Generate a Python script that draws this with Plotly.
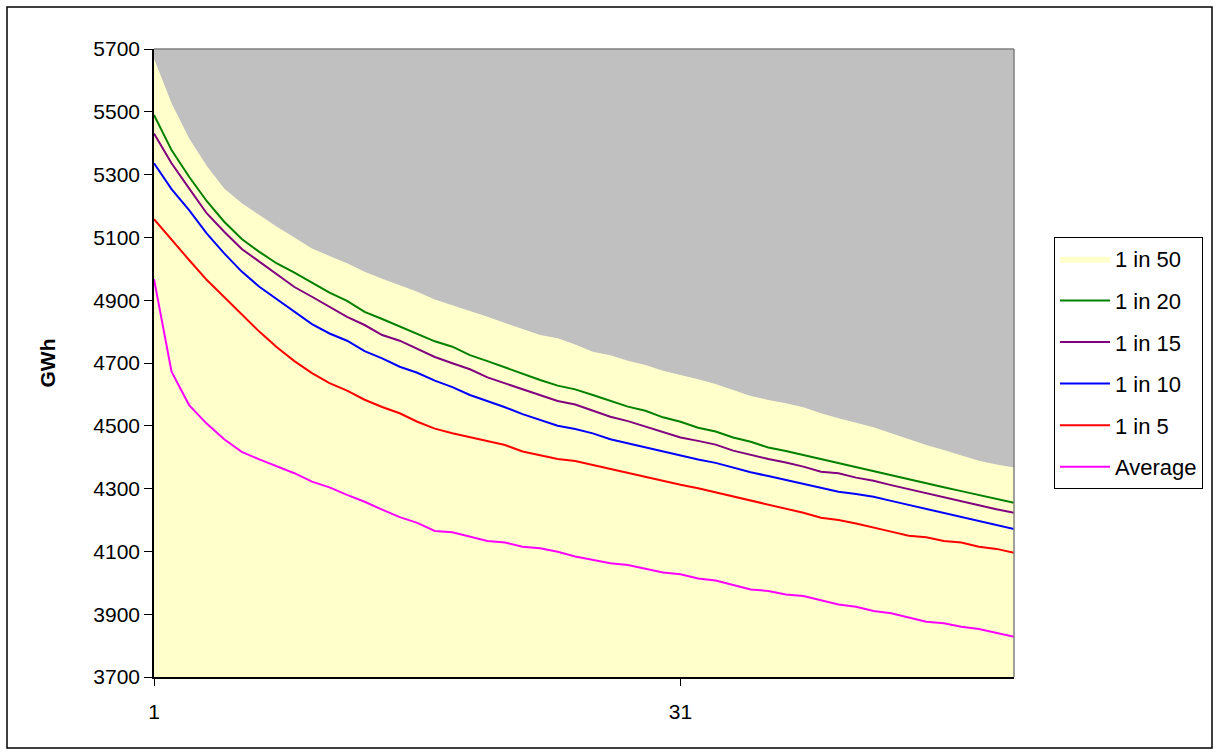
import plotly.graph_objects as go

days = list(range(1, 51))

one_in_50 = [5670, 5527, 5416, 5328, 5256, 5209, 5171, 5134, 5100, 5065,
             5041, 5018, 4991, 4968, 4948, 4927, 4902, 4885, 4866, 4847,
             4828, 4810, 4789, 4779, 4759, 4736, 4725, 4707, 4694, 4675,
             4662, 4648, 4633, 4614, 4595, 4582, 4572, 4559, 4540, 4524,
             4510, 4495, 4476, 4457, 4439, 4423, 4407, 4389, 4377, 4367]

one_in_20 = [5490, 5378, 5293, 5216, 5150, 5095, 5054, 5017, 4988, 4955,
             4924, 4898, 4863, 4840, 4816, 4794, 4769, 4752, 4725, 4706,
             4686, 4665, 4646, 4628, 4616, 4598, 4580, 4561, 4548, 4527,
             4513, 4494, 4482, 4463, 4449, 4431, 4420, 4407, 4393, 4381,
             4368, 4356, 4343, 4330, 4317, 4304, 4292, 4280, 4269, 4255]

one_in_15 = [5431, 5336, 5256, 5177, 5118, 5063, 5023, 4982, 4942, 4911,
             4879, 4847, 4821, 4789, 4771, 4745, 4719, 4699, 4680, 4654,
             4635, 4616, 4596, 4579, 4568, 4548, 4529, 4515, 4497, 4481,
             4463, 4452, 4440, 4421, 4407, 4394, 4383, 4370, 4354, 4349,
             4335, 4325, 4311, 4298, 4285, 4272, 4258, 4245, 4234, 4223]

one_in_10 = [5336, 5254, 5187, 5113, 5049, 4991, 4943, 4904, 4863, 4824,
             4794, 4771, 4738, 4715, 4688, 4669, 4644, 4623, 4598, 4579,
             4559, 4537, 4518, 4500, 4490, 4476, 4457, 4444, 4432, 4418,
             4405, 4393, 4382, 4367, 4352, 4340, 4327, 4315, 4301, 4290,
             4283, 4274, 4261, 4248, 4234, 4221, 4209, 4197, 4184, 4171]

one_in_5 = [5158, 5092, 5028, 4965, 4911, 4855, 4800, 4750, 4706, 4668,
            4636, 4612, 4583, 4560, 4540, 4513, 4491, 4476, 4463, 4452,
            4439, 4418, 4405, 4394, 4388, 4375, 4362, 4351, 4338, 4325,
            4312, 4301, 4288, 4274, 4261, 4248, 4235, 4223, 4207, 4200,
            4189, 4177, 4163, 4150, 4145, 4133, 4128, 4115, 4108, 4096]

average = [4967, 4672, 4566, 4507, 4457, 4417, 4393, 4370, 4349, 4322,
           4304, 4280, 4258, 4233, 4209, 4191, 4165, 4161, 4147, 4133,
           4128, 4115, 4110, 4099, 4084, 4073, 4062, 4057, 4046, 4033,
           4027, 4014, 4007, 3993, 3979, 3974, 3963, 3958, 3945, 3931,
           3924, 3910, 3903, 3890, 3876, 3871, 3860, 3853, 3841, 3828]

y_ticks = [3700, 3900, 4100, 4300, 4500, 4700, 4900, 5100, 5300, 5500, 5700]
x_ticks = [1, 31]

line_series = [
    ("1 in 20", one_in_20, "#008000"),
    ("1 in 15", one_in_15, "#800080"),
    ("1 in 10", one_in_10, "#0000FF"),
    ("1 in 5", one_in_5, "#FF0000"),
    ("Average", average, "#FF00FF"),
]

FONT = "Arial, Liberation Sans, sans-serif"

fig = go.Figure()
fig.add_trace(go.Scatter(
    x=days, y=one_in_50, name="1 in 50", mode="lines",
    line=dict(width=0, color="#FFFFCC"), fill="tozeroy",
    fillcolor="#FFFFCC", legendgroup="g0"))
for i, (name, vals, col) in enumerate(line_series):
    fig.add_trace(go.Scatter(
        x=days, y=vals, name=name, mode="lines",
        line=dict(width=2, color=col), legendgroup=f"g{i+1}"))

L, R, T, B = 154, 205, 49, 78
W, H = 1219, 755
pw, ph = W - L - R, H - T - B

def px_x(p):
    return (p - L) / pw

def px_y(p):
    return (H - B - p) / ph

fig.update_layout(
    width=W, height=H,
    margin=dict(l=L, r=R, t=T, b=B),
    paper_bgcolor="white",
    plot_bgcolor="#C0C0C0",
    font=dict(family=FONT, size=21, color="black"),
    showlegend=True,
    legend=dict(
        x=px_x(1054), y=px_y(237), xanchor="left", yanchor="top",
        bordercolor="black", borderwidth=1, bgcolor="white",
        tracegroupgap=10, font=dict(size=22, family=FONT),
        itemwidth=50,
    ),
    xaxis=dict(
        range=[1, 50], tickvals=x_ticks, ticktext=[str(v) for v in x_ticks],
        showgrid=False, zeroline=False, showline=True, linecolor="black",
        linewidth=1.5, ticks="outside", ticklen=7, tickcolor="black",
        tickwidth=1, tickfont=dict(size=21), ticklabelstandoff=8,
    ),
    yaxis=dict(
        range=[3700, 5700], tickvals=y_ticks,
        showgrid=False, zeroline=False, showline=True, linecolor="black",
        linewidth=1.5, ticks="outside", ticklen=8, tickcolor="black",
        tickwidth=1, tickfont=dict(size=21),
        title=dict(text="<b>GWh</b>", font=dict(size=21), standoff=32),
    ),
    shapes=[
        dict(type="line", xref="paper", yref="paper", x0=0, x1=1, y0=1, y1=1,
             line=dict(color="#808080", width=1.5)),
        dict(type="line", xref="paper", yref="paper", x0=1, x1=1, y0=0, y1=1,
             line=dict(color="#808080", width=1.5)),
        dict(type="rect", xref="paper", yref="paper",
             x0=px_x(7), x1=px_x(1212), y0=px_y(748), y1=px_y(7),
             line=dict(color="black", width=1.5)),
    ],
)

fig.write_html("out.html")
